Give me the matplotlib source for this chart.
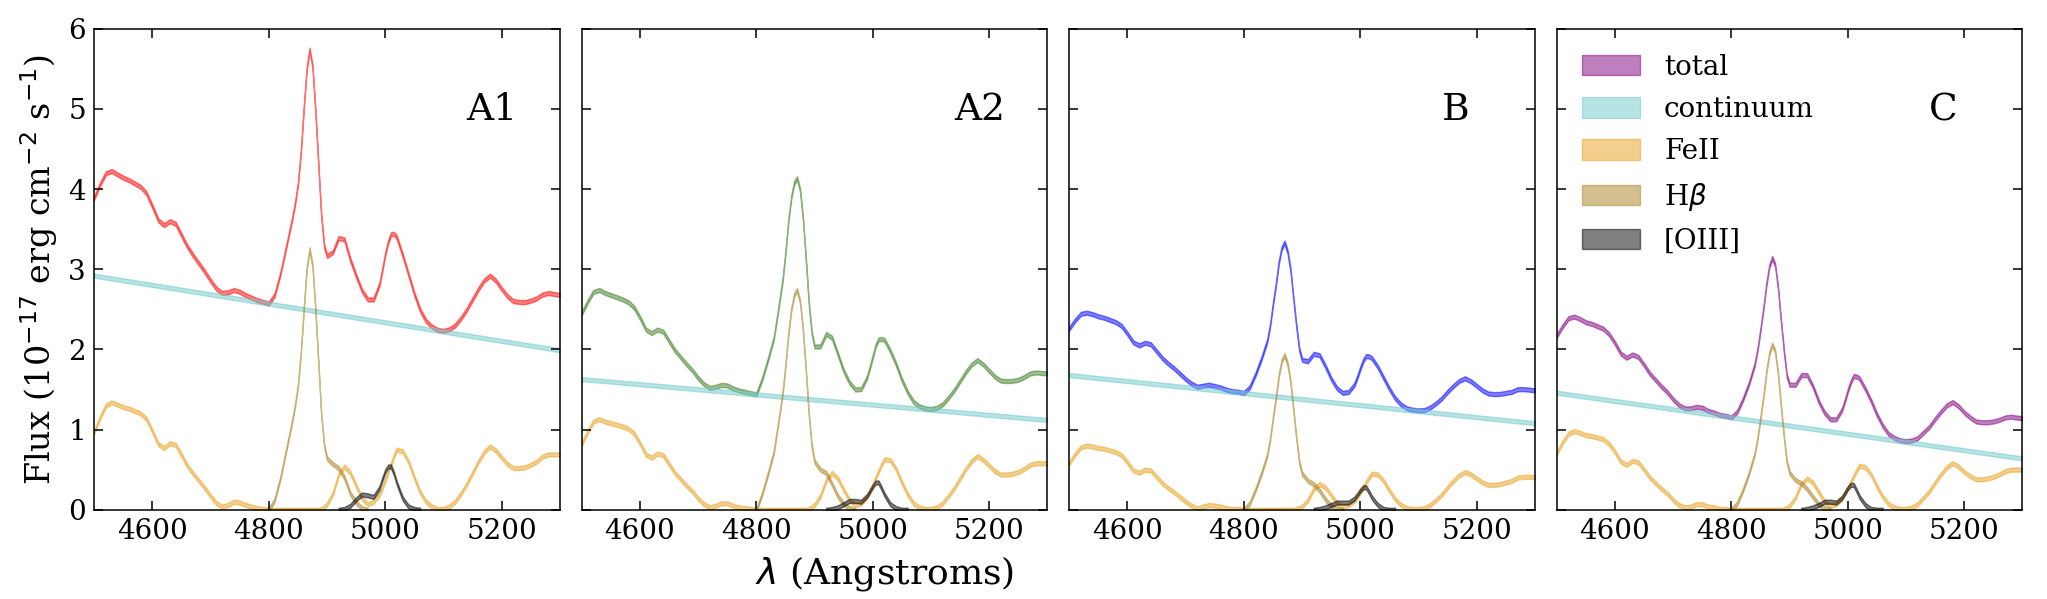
import matplotlib
matplotlib.use('Agg')
import matplotlib.pyplot as plt
import numpy as np

# wavelength grid (Angstrom), finer around Hbeta and [OIII]5007
wave = np.concatenate([np.arange(4500, 4841, 10), np.arange(4845, 4901, 5),
                       np.arange(4910, 4991, 10), np.arange(4995, 5021, 5),
                       np.arange(5030, 5301, 10)])
hb_sel = (wave >= 4800) & (wave <= 4970)
oiii_sel = (wave >= 4920) & (wave <= 5060)

panels = ['A1', 'A2', 'B', 'C']
total_colors = ['red', '#3c7d22', 'blue', 'purple']

# continuum: flux at 4500 and 5300
cont_wave = [4500, 5300]
cont_a1 = [2.92, 1.99]
cont_a2 = [1.63, 1.12]
cont_b = [1.68, 1.08]
cont_c = [1.46, 0.64]

# FeII on the full grid
feii_a1 = [0.97, 1.15, 1.30, 1.34, 1.31, 1.28, 1.26, 1.23, 1.20, 1.13,
           0.98, 0.82, 0.77, 0.83, 0.81, 0.68, 0.55, 0.45, 0.36, 0.27,
           0.17, 0.08, 0.04, 0.06, 0.10, 0.09, 0.06, 0.04, 0.02, 0.01,
           0.00, 0.00, 0.00, 0.00, 0.00,
           0.00, 0.00, 0.00, 0.00, 0.00, 0.00, 0.00, 0.00, 0.00, 0.01, 0.03, 0.07,
           0.20, 0.44, 0.54, 0.46, 0.30, 0.14, 0.07, 0.10, 0.19,
           0.27, 0.37, 0.47, 0.57, 0.67, 0.75,
           0.73, 0.60, 0.40, 0.22, 0.10, 0.04, 0.01, 0.01, 0.04, 0.10,
           0.20, 0.32, 0.46, 0.60, 0.72, 0.79, 0.74, 0.65, 0.57, 0.52,
           0.52, 0.53, 0.56, 0.60, 0.66, 0.69, 0.69, 0.69]
feii_a2 = [0.82, 0.97, 1.10, 1.13, 1.10, 1.08, 1.06, 1.04, 1.01, 0.95,
           0.83, 0.69, 0.65, 0.70, 0.68, 0.57, 0.46, 0.38, 0.30, 0.23,
           0.14, 0.07, 0.03, 0.05, 0.08, 0.08, 0.05, 0.03, 0.02, 0.01,
           0.00, 0.00, 0.00, 0.00, 0.00,
           0.00, 0.00, 0.00, 0.00, 0.00, 0.00, 0.00, 0.00, 0.00, 0.01, 0.03, 0.06,
           0.17, 0.37, 0.46, 0.39, 0.25, 0.12, 0.06, 0.08, 0.16,
           0.23, 0.31, 0.40, 0.48, 0.56, 0.63,
           0.62, 0.51, 0.34, 0.19, 0.08, 0.03, 0.01, 0.01, 0.03, 0.08,
           0.17, 0.27, 0.39, 0.51, 0.61, 0.67, 0.62, 0.55, 0.48, 0.44,
           0.44, 0.45, 0.47, 0.51, 0.56, 0.58, 0.58, 0.58]
feii_b = [0.58, 0.69, 0.78, 0.80, 0.79, 0.77, 0.76, 0.74, 0.72, 0.68,
          0.59, 0.49, 0.46, 0.50, 0.49, 0.41, 0.33, 0.27, 0.22, 0.16,
          0.10, 0.05, 0.02, 0.04, 0.06, 0.05, 0.04, 0.02, 0.01, 0.01,
          0.00, 0.00, 0.00, 0.00, 0.00,
          0.00, 0.00, 0.00, 0.00, 0.00, 0.00, 0.00, 0.00, 0.00, 0.01, 0.02, 0.04,
          0.12, 0.26, 0.32, 0.28, 0.18, 0.08, 0.04, 0.06, 0.11,
          0.16, 0.22, 0.28, 0.34, 0.40, 0.45,
          0.44, 0.36, 0.24, 0.13, 0.06, 0.02, 0.01, 0.01, 0.02, 0.06,
          0.12, 0.19, 0.28, 0.36, 0.43, 0.47, 0.44, 0.39, 0.34, 0.31,
          0.31, 0.32, 0.34, 0.36, 0.40, 0.41, 0.41, 0.41]
feii_c = [0.71, 0.84, 0.95, 0.98, 0.96, 0.93, 0.92, 0.90, 0.88, 0.82,
          0.72, 0.60, 0.56, 0.61, 0.59, 0.50, 0.40, 0.33, 0.26, 0.20,
          0.12, 0.06, 0.03, 0.04, 0.07, 0.07, 0.04, 0.03, 0.01, 0.01,
          0.00, 0.00, 0.00, 0.00, 0.00,
          0.00, 0.00, 0.00, 0.00, 0.00, 0.00, 0.00, 0.00, 0.00, 0.01, 0.02, 0.05,
          0.15, 0.32, 0.39, 0.34, 0.22, 0.10, 0.05, 0.07, 0.14,
          0.20, 0.27, 0.34, 0.42, 0.49, 0.55,
          0.53, 0.44, 0.29, 0.16, 0.07, 0.03, 0.01, 0.01, 0.03, 0.07,
          0.15, 0.23, 0.34, 0.44, 0.53, 0.58, 0.54, 0.47, 0.42, 0.38,
          0.38, 0.39, 0.41, 0.44, 0.48, 0.50, 0.50, 0.50]

# Hbeta, 4800-4970
hb_a1 = [0.00, 0.12, 0.40, 0.75, 1.10, 1.30, 1.55, 1.95, 2.50, 3.00, 3.25, 3.05,
         2.50, 1.85, 1.20, 0.80, 0.64, 0.57, 0.52, 0.40, 0.20, 0.09, 0.02, 0.00]
hb_a2 = [0.00, 0.20, 0.45, 0.72, 1.20, 1.45, 1.80, 2.20, 2.50, 2.68, 2.74, 2.60,
         2.25, 1.75, 1.20, 0.80, 0.60, 0.50, 0.46, 0.32, 0.17, 0.07, 0.02, 0.00]
hb_b = [0.00, 0.08, 0.25, 0.45, 0.68, 0.88, 1.15, 1.40, 1.68, 1.86, 1.93, 1.82,
        1.60, 1.25, 0.90, 0.60, 0.45, 0.36, 0.32, 0.24, 0.13, 0.05, 0.01, 0.00]
hb_c = [0.00, 0.08, 0.25, 0.45, 0.70, 0.90, 1.15, 1.42, 1.72, 1.95, 2.06, 1.98,
        1.70, 1.30, 0.92, 0.60, 0.46, 0.37, 0.33, 0.26, 0.16, 0.07, 0.02, 0.00]

# [OIII], 4920-5060
oiii_a1 = [0.00, 0.01, 0.05, 0.13, 0.19, 0.18, 0.16, 0.27, 0.38, 0.48, 0.54, 0.54,
           0.45, 0.33, 0.14, 0.04, 0.01, 0.00]
oiii_a2 = [0.00, 0.01, 0.03, 0.07, 0.11, 0.11, 0.10, 0.17, 0.23, 0.29, 0.34, 0.34,
           0.27, 0.19, 0.07, 0.02, 0.00, 0.00]
oiii_b = [0.00, 0.01, 0.03, 0.06, 0.09, 0.09, 0.09, 0.14, 0.19, 0.24, 0.28, 0.28,
          0.22, 0.15, 0.06, 0.01, 0.00, 0.00]
oiii_c = [0.00, 0.01, 0.03, 0.06, 0.10, 0.10, 0.09, 0.15, 0.21, 0.27, 0.31, 0.31,
          0.24, 0.16, 0.06, 0.01, 0.00, 0.00]

conts = [cont_a1, cont_a2, cont_b, cont_c]
feiis = [feii_a1, feii_a2, feii_b, feii_c]
hbs = [hb_a1, hb_a2, hb_b, hb_c]
oiiis = [oiii_a1, oiii_a2, oiii_b, oiii_c]

plt.rcParams['font.family'] = 'DejaVu Serif'
band = 0.025

fig, axes = plt.subplots(1, 4, figsize=(20.47, 5.99), dpi=100, sharey=True)
fig.subplots_adjust(left=0.046, right=0.988, bottom=0.149, top=0.952, wspace=0.047)

for i, ax in enumerate(axes):
    cont_grid = np.interp(wave, cont_wave, conts[i])
    feii = np.array(feiis[i])
    hb = np.array(hbs[i])
    oiii = np.array(oiiis[i])
    total = cont_grid + feii
    total[hb_sel] += hb
    total[oiii_sel] += oiii

    ax.fill_between(wave, total - band, total + band, color=total_colors[i], alpha=0.5, label='total')
    ax.fill_between(cont_wave, np.array(conts[i]) - band, np.array(conts[i]) + band,
                    color='#71c9cd', alpha=0.5, label='continuum')
    ax.fill_between(wave, feii - band, feii + band, color='#e9a11f', alpha=0.5, label='FeII')
    ax.fill_between(wave[hb_sel], hb - band, hb + band, color='#a98323', alpha=0.5, label=r'H$\beta$')
    ax.fill_between(wave[oiii_sel], oiii - band, oiii + band, color='k', alpha=0.5, label='[OIII]')

    ax.set_xlim(4500, 5300)
    ax.set_ylim(0, 6)
    ax.set_xticks([4600, 4800, 5000, 5200])
    ax.set_yticks([0, 1, 2, 3, 4, 5, 6])
    ax.tick_params(direction='in', top=True, right=True, length=6.5, width=1.1,
                   labelsize=20, pad=6)
    for sp in ax.spines.values():
        sp.set_linewidth(1.1)
    ax.text(0.8, 0.81, panels[i], transform=ax.transAxes, fontsize=27,
            ha='left', va='baseline')

axes[0].set_ylabel(r'Flux (10$^{-17}$ erg cm$^{-2}$ s$^{-1}$)', fontsize=24, labelpad=6)
axes[3].legend(loc='upper left', fontsize=20, frameon=False, handlelength=2.1,
               handleheight=0.75, handletextpad=0.86, labelspacing=0.55,
               borderaxespad=0.5)
fig.text(0.432, 0.042, r'$\lambda$ (Angstroms)', fontsize=26, ha='center', va='center')

fig.savefig('out.png', dpi=100)
